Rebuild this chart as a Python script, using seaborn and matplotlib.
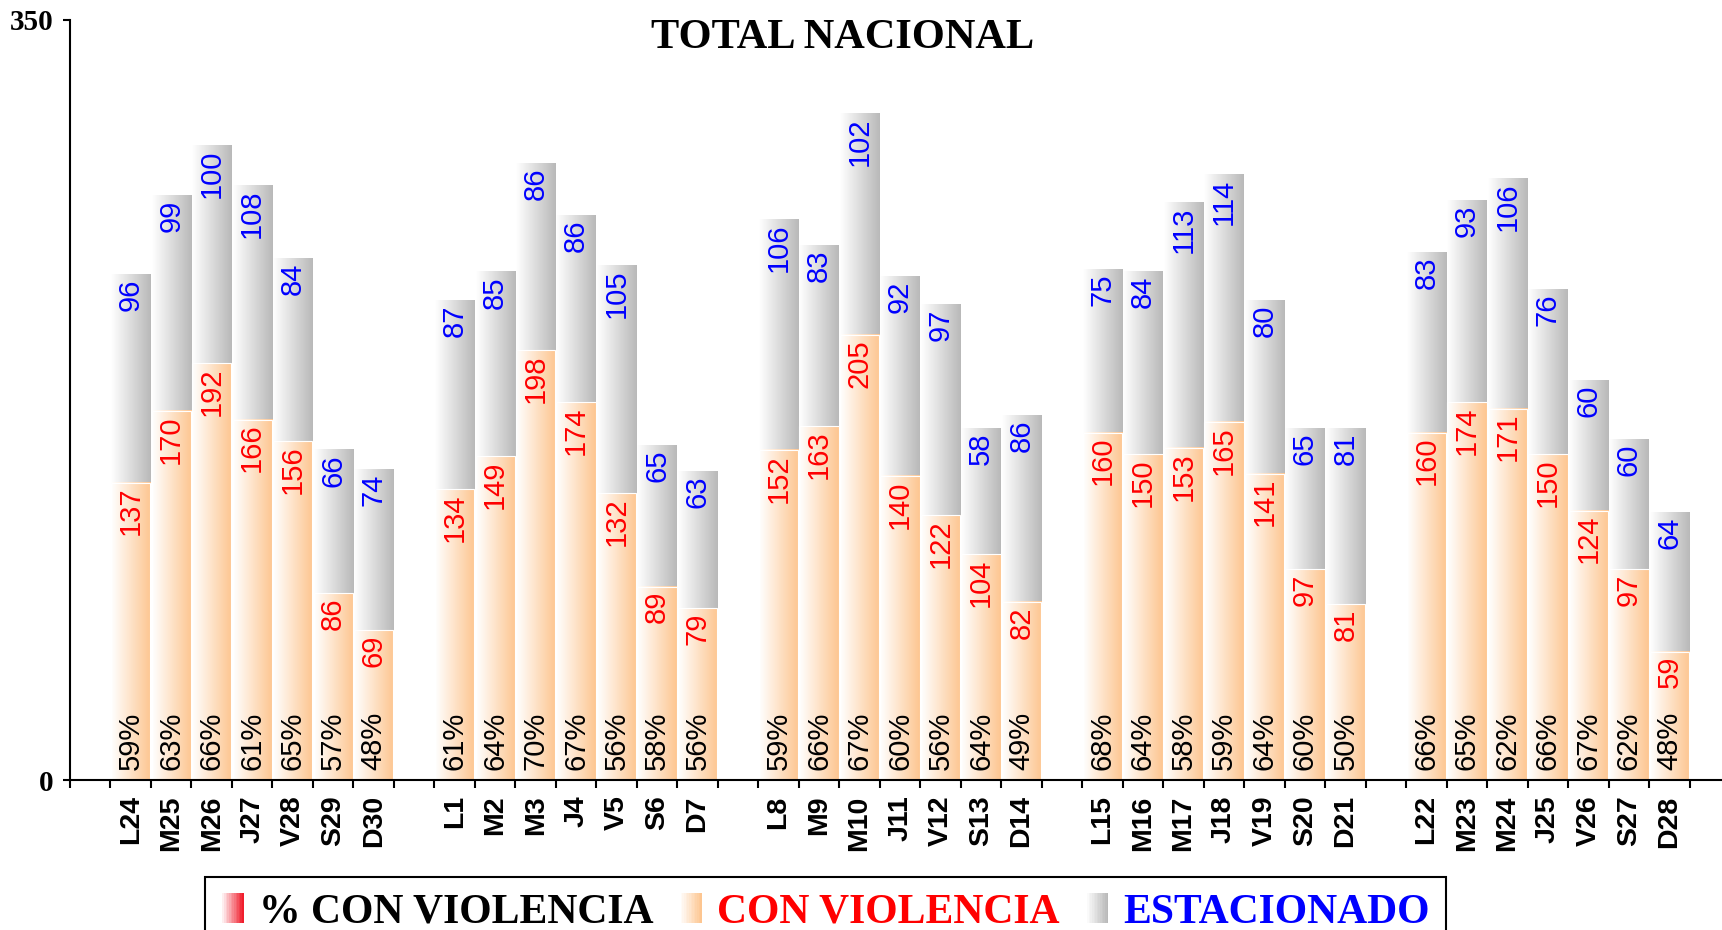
import numpy as np
import pandas as pd
import seaborn as sns
import matplotlib.pyplot as plt
from matplotlib.colors import LinearSegmentedColormap
from matplotlib.patches import Patch, Rectangle
from matplotlib.legend_handler import HandlerBase

# ---- data ----
dias = ["L24", "M25", "M26", "J27", "V28", "S29", "D30",
        "L1", "M2", "M3", "J4", "V5", "S6", "D7",
        "L8", "M9", "M10", "J11", "V12", "S13", "D14",
        "L15", "M16", "M17", "J18", "V19", "S20", "D21",
        "L22", "M23", "M24", "J25", "V26", "S27", "D28"]
con_violencia = [137, 170, 192, 166, 156, 86, 69,
                 134, 149, 198, 174, 132, 89, 79,
                 152, 163, 205, 140, 122, 104, 82,
                 160, 150, 153, 165, 141, 97, 81,
                 160, 174, 171, 150, 124, 97, 59]
estacionado = [96, 99, 100, 108, 84, 66, 74,
               87, 85, 86, 86, 105, 65, 63,
               106, 83, 102, 92, 97, 58, 86,
               75, 84, 113, 114, 80, 65, 81,
               83, 93, 106, 76, 60, 60, 64]
pct_violencia = [59, 63, 66, 61, 65, 57, 48,
                 61, 64, 70, 67, 56, 58, 56,
                 59, 66, 67, 60, 56, 64, 49,
                 68, 64, 58, 59, 64, 60, 50,
                 66, 65, 62, 66, 67, 62, 48]

data = pd.DataFrame({"dia": dias, "cv": con_violencia, "est": estacionado, "pct": pct_violencia})
data["total"] = data.cv + data.est

# one empty slot before each week
order = []
for w in range(5):
    order.append(f"_gap{w}")
    order.extend(dias[w * 7:(w + 1) * 7])

sns.set_style("ticks", {"axes.spines.right": False, "axes.spines.top": False,
                        "text.color": "black", "xtick.color": "black", "ytick.color": "black",
                        "axes.edgecolor": "black"})

SANS = ["Liberation Sans", "DejaVu Sans"]
SERIF = ["Liberation Serif", "DejaVu Serif"]

ORANGE = (253 / 255, 198 / 255, 145 / 255)
GRAY = (185 / 255, 185 / 255, 185 / 255)
RED_SW = (240 / 255, 30 / 255, 45 / 255)
cmap_orange = LinearSegmentedColormap.from_list("o", ["white", ORANGE])
cmap_gray = LinearSegmentedColormap.from_list("g", ["white", GRAY])

f = plt.figure(figsize=(17.22, 9.30), dpi=100)
ax = f.add_axes([70 / 1722, 150 / 930, 1652 / 1722, 760 / 930])

grad = np.linspace(0, 1, 64).reshape(1, -1)

# total bars (gray), then con violencia (orange) on top
sns.barplot(data, x="dia", y="total", order=order, width=0.97, errorbar=None,
            color=GRAY, ax=ax)
n_gray = len(ax.patches)
sns.barplot(data, x="dia", y="cv", order=order, width=0.97, errorbar=None,
            color=ORANGE, ax=ax)

for i, p in enumerate(ax.patches):
    x, w, h = p.get_x(), p.get_width(), p.get_height()
    cm = cmap_gray if i < n_gray else cmap_orange
    ax.imshow(grad, cmap=cm, extent=[x, x + w, 0, h], aspect="auto",
              origin="lower", zorder=1 if i < n_gray else 2, interpolation="bicubic")
    if i < n_gray:
        p.set_visible(False)
    else:
        p.set_facecolor("none")
        p.set_edgecolor("white")
        p.set_linewidth(0.8)
        p.set_zorder(2.5)

# value labels
LBL = 21
for _, r in data.iterrows():
    xc = order.index(r.dia)
    ax.annotate(str(r.cv), (xc, r.cv), xytext=(0, -3), textcoords="offset points",
                rotation=90, ha="center", va="top", color="red",
                fontsize=LBL, family=SANS, zorder=5)
    ax.annotate(str(r.est), (xc, r.total), xytext=(0, -3), textcoords="offset points",
                rotation=90, ha="center", va="top", color="blue",
                fontsize=LBL, family=SANS, zorder=5)
    ax.annotate(f"{r.pct}%", (xc, 0), xytext=(0, 7), textcoords="offset points",
                rotation=90, ha="center", va="bottom", color="black",
                fontsize=LBL, family=SANS, zorder=5)

# axes
ax.set_xlim(-0.5, 40.3)
ax.set_ylim(0, 350)
ax.set_xlabel("")
ax.set_ylabel("")
ax.set_xticks(np.arange(-0.5, 40, 1), labels=[""] * 41)
ax.set_xticks(np.arange(40), labels=["" if d.startswith("_gap") else d for d in order], minor=True)
ax.tick_params(axis="x", which="major", length=6, width=1.5, direction="out", color="black")
ax.tick_params(axis="x", which="minor", length=0, pad=11, labelcolor="black")
for t in ax.get_xticklabels(minor=True):
    t.set_rotation(90)
    t.set_fontsize(20.5)
    t.set_fontweight("bold")
    t.set_family(SANS)
    t.set_color("black")
ax.set_yticks([0, 350], labels=["0", "350"])
ax.tick_params(axis="y", length=5, width=1.5, direction="out", pad=7, color="black", labelcolor="black")
for t in ax.get_yticklabels():
    t.set_fontsize(21)
    t.set_fontweight("bold")
    t.set_family(SERIF)
    t.set_color("black")
for s in ["left", "bottom"]:
    ax.spines[s].set_linewidth(1.5)
    ax.spines[s].set_color("black")
ax.grid(False)

f.text(843 / 1722, 1 - 48 / 930, "TOTAL NACIONAL", ha="center", va="baseline",
       fontsize=30.5, fontweight="bold", family=SERIF, color="black")


# legend with gradient swatches
class GradHandler(HandlerBase):
    def __init__(self, c1):
        super().__init__()
        self.c1 = np.array(c1)

    def create_artists(self, legend, orig_handle, xdescent, ydescent, width, height, fontsize, trans):
        n = 14
        arts = []
        for k in range(n):
            t = k / (n - 1)
            col = np.ones(3) * (1 - t) + self.c1 * t
            arts.append(Rectangle((-xdescent + k * width / n, -ydescent), width / n * 1.08, height,
                                  facecolor=col, edgecolor="none", transform=trans))
        return arts


h1 = Patch(label="% CON VIOLENCIA")
h2 = Patch(label="CON VIOLENCIA")
h3 = Patch(label="ESTACIONADO")
leg = f.legend(handles=[h1, h2, h3], loc="upper left",
               bbox_to_anchor=(205 / 1722, 1 - 877 / 930), borderaxespad=0,
               ncol=3, handler_map={h1: GradHandler(RED_SW), h2: GradHandler(ORANGE), h3: GradHandler(GRAY)},
               prop={"family": SERIF, "weight": "bold", "size": 30},
               handlelength=0.55, handleheight=0.75, handletextpad=0.36, columnspacing=0.62,
               borderpad=0.38, frameon=True, fancybox=False, framealpha=1, edgecolor="black")
leg.get_frame().set_linewidth(1.5)
for t, c in zip(leg.get_texts(), ["black", "red", "blue"]):
    t.set_color(c)

f.savefig("out.png", dpi=100)
